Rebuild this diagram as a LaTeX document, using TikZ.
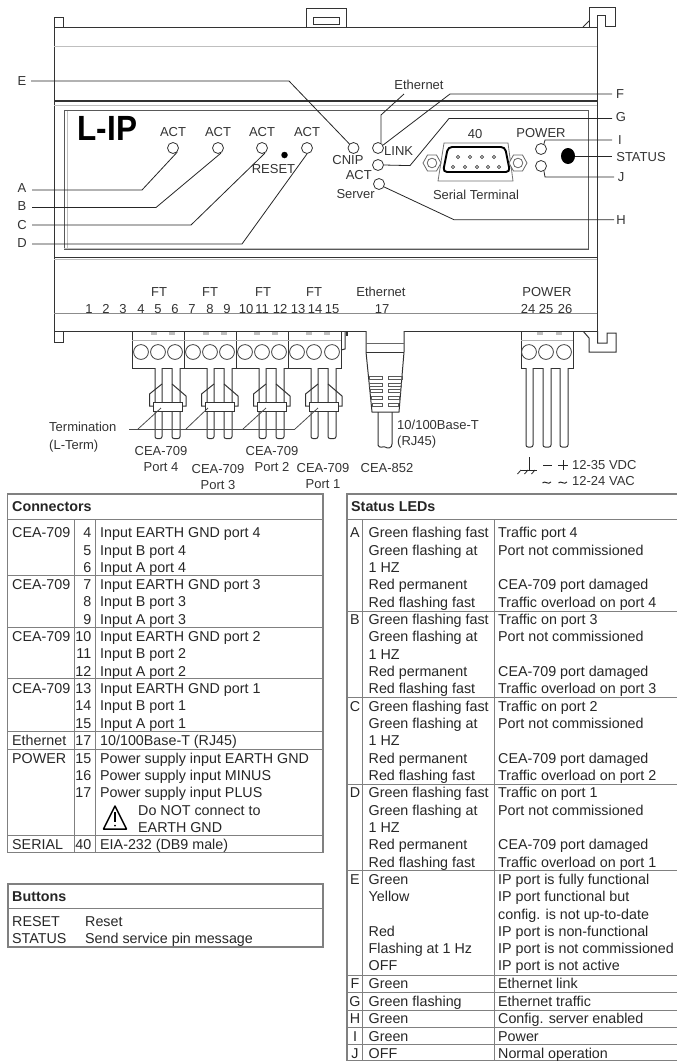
\documentclass[tikz,border=0pt]{standalone}
\usepackage{fontspec}
\usetikzlibrary{shapes.geometric}
\setmainfont{Liberation Sans}
\newcount\autonum
\newcommand{\ttx}[3]{\global\advance\autonum by 1 \node[tbltext,name=t\the\autonum] at (#1,{#2+5.1}) {#3};}
\newcommand{\ttr}[3]{\global\advance\autonum by 1 \node[tbltext,anchor=base east,name=t\the\autonum] at (#1,{#2+5.1}) {#3};}
\newcommand{\ttc}[3]{\global\advance\autonum by 1 \node[tbltext,anchor=base,name=t\the\autonum] at (#1,{#2+5.1}) {#3};}
\newcommand{\lbc}[3]{\global\advance\autonum by 1 \node[lab,name=t\the\autonum] at (#1,{#2+4.6}) {#3};}
\newcommand{\lbl}[3]{\global\advance\autonum by 1 \node[lab,anchor=base west,name=t\the\autonum] at (#1,{#2+4.6}) {#3};}
\newcommand{\lbr}[3]{\global\advance\autonum by 1 \node[lab,anchor=base east,name=t\the\autonum] at (#1,{#2+4.6}) {#3};}
\tikzset{
  tbltext/.style={anchor=base west,inner sep=0pt,text=black!85,font=\fontsize{14.3}{17}\selectfont},
  lab/.style={anchor=base,inner sep=0pt,text=black!80,font=\fontsize{13}{15}\selectfont},
  letter/.style={inner sep=1.5pt,text=black!80,font=\fontsize{13}{15}\selectfont},
  led/.style={circle,draw=black!80,line width=.8pt,fill=white,minimum size=11pt,inner sep=0pt},
  body/.style={draw=black!80,line width=1pt},
  soft/.style={draw=black!25,line width=1pt},
  leader/.style={draw=black!85,line width=.8pt},
  rule/.style={draw=black!50,line width=.9pt},
  frame/.style={draw=black!50,line width=1.1pt},
  wire/.style={draw=black!80,line width=1pt,fill=white,rounded corners=2pt},
  screw/.style={draw=black!75,line width=.8pt,fill=white},
  pin/.style={draw=black!75,line width=.7pt,fill=white},
}
\begin{document}
\begin{tikzpicture}[x=1pt,y=-1pt]
\useasboundingbox (0,0) rectangle (677,1061);
% ---- housing tabs
\draw[body] (54,27) -- (54,17) -- (63,17) -- (63,27);
\draw[body] (306,27) -- (306,8) -- (346,8) -- (346,27);
\draw[body] (313,17) rectangle (339,24);
\draw[body] (589,27) -- (589,7) -- (615,7) -- (615,26) -- (605,26) -- (605,15) -- (597.5,15) -- (597.5,27);
\draw[body] (583,27) -- (589,21);
\draw[body] (54,331) -- (54,342) -- (63,342) -- (63,331);
\draw[body] (583,331) -- (589,338) -- (589,352) -- (616,352) -- (616,333) -- (607,333) -- (607,343) -- (597.5,343) -- (597.5,331);
% ---- housing
\draw[body,fill=white] (54,27.5) rectangle (597.5,331);
\draw[soft] (54,46) -- (597,46);
\draw[body,line width=1.2pt] (54,101) -- (597,101);
\draw[soft] (54,105) -- (597,105);
\draw[draw=black!65,line width=.9pt] (64,110) rectangle (588,249);
\draw[soft] (67,111) -- (67,248);
\draw[soft] (64,248.5) -- (588,248.5);
\draw[body] (54,257) -- (597,257);
\draw[soft] (54,259) -- (597,259);
\draw[draw=black!45,line width=.8pt] (54,313.5) -- (597,313.5);
% ---- name
\node[name=title,inner sep=0pt,anchor=base west,text=black,font=\fontsize{35}{35}\selectfont\bfseries] at (77.5,140) {\scalebox{.9}[1]{L-IP}};
% ---- LEDs
\node[led] (la) at (173,148) {};
\node[led] (lb) at (218,148) {};
\node[led] (lc) at (262,148) {};
\node[led] (ld) at (307,148) {};
\node[led] (le) at (353.5,148) {};
\node[led] (lf) at (378,148) {};
\node[led] (lg) at (378,165) {};
\node[led] (lh) at (379,184) {};
\node[led] (li) at (541,149) {};
\node[led] (lj) at (541,166) {};
\node[name=resetdot,circle,fill=black,minimum size=6.5pt,inner sep=0pt] at (284.5,155) {};
\node[name=statusdot,ellipse,fill=black,minimum width=14pt,minimum height=16pt,inner sep=0pt] at (568,156) {};
% ---- letters
\node[letter] (A) at (22,188) {A};
\node[letter] (B) at (22,206) {B};
\node[letter] (C) at (22,225) {C};
\node[letter] (D) at (22,243) {D};
\node[letter] (E) at (22,81) {E};
\node[letter] (F) at (620,94) {F};
\node[letter] (G) at (621,117) {G};
\node[letter] (H) at (621,220) {H};
\node[letter] (I) at (620,140) {I};
\node[letter] (J) at (621,177) {J};
\node[letter,inner sep=0pt] (STATUS) at (641,157) {STATUS};
\node[letter] (EthT) at (419,85) {Ethernet};
% ---- leaders
\coordinate (a1) at (142,190); \coordinate (b1) at (156,207.5);
\coordinate (c1) at (191,225); \coordinate (d1) at (242,244);
\coordinate (e1) at (289,81);
\draw[leader] (32,190) -- (a1) -- (la.-45);
\draw[leader] (32,207.5) -- (b1) -- (lb.-60);
\draw[leader] (32,225) -- (c1) -- (lc.-60);
\draw[leader] (32,244) -- (d1) -- (ld.-90);
\draw[leader] (31,81) -- (e1) -- (le.135);
\coordinate (f1) at (450,94); \coordinate (g1) at (449,118.5);
\coordinate (g2) at (410,165.6); \coordinate (h1) at (454,219.7);
\coordinate (e2) at (381,115);
\draw[leader] (612,94) -- (f1) -- (lf.30);
\draw[leader] (612,118.5) -- (g1) -- (g2) -- (lg.east);
\draw[leader] (614,219.7) -- (h1) -- (lh.-30);
\draw[leader] (612,140) -- (545,140) -- (li.60);
\draw[leader] (614,177) -- (545,177) -- (lj.-60);
\draw[leader] (statusdot.east) -- (612,156);
\draw[leader] (404,94) -- (e2) -- (lf.60);
% ---- panel labels
\foreach \px in {173,218,262,307} {\lbc{\px}{132}{ACT}}
\lbc{273.5}{169}{RESET}
\lbc{348}{160}{CNIP}
\lbl{384}{151}{LINK}
\lbr{372}{175}{ACT}
\lbr{375}{194}{Server}
\lbc{541}{133}{POWER}
\lbc{475}{134}{40}
\lbc{476}{195}{Serial Terminal}
% ---- serial connector
\draw[draw=black!55,line width=.8pt,fill=white] (444,143) -- (508,143) -- (513,181) -- (438,181) -- cycle;
\draw[draw=black,line width=1.9pt,rounded corners=4pt] (448,147) -- (505,147) -- (510,172) -- (443,172) -- cycle;
\foreach \px in {458,470,482,494} {\draw[pin] (\px,157) circle[radius=1.6];}
\foreach \px in {453,465,477,488,499} {\draw[pin] (\px,167) circle[radius=1.6];}
\foreach \cx in {432,518} {
  \draw[draw=black!60,line width=.8pt,fill=white] (\cx-9,163) -- (\cx-4.5,155) -- (\cx+4.5,155) -- (\cx+9,163) -- (\cx+4.5,171) -- (\cx-4.5,171) -- cycle;
  \draw[draw=black!60,line width=.8pt] (\cx,163) circle[radius=4.8];
}
% ---- terminal labels
\foreach \px in {159,210,263,314} {\lbc{\px}{292}{FT}}
\foreach \px/\nn in {89/1,106/2,123/3,141/4,158/5,175/6,192/7,210/8,227/9,246/10,262/11,280/12,298/13,315/14,332/15,382/17,528/24,546/25,565/26} {\lbc{\px}{309}{\nn}}
\lbc{381}{292}{Ethernet}
\lbc{547}{292}{POWER}
% ---- terminal blocks
\foreach \bl/\br in {132/184,184/236,236/288,288/341,521/573} {
  \draw[body,fill=white] (\bl,331) rectangle (\br,368);
  \draw[draw=black!30,line width=.9pt] (\bl,340) -- (\br,340);
}
\foreach \sx in {141,158,175,193,210,227,245,262,279,297,314,332,529,546,564} {
  \draw[screw] (\sx,352) circle[radius=7.4];
}
\foreach \gx in {151,169,203,221,254,272,306,324,537,556} {
  \fill[black!25] (\gx,331.5) rectangle +(6,3);
}
\draw[body] (341,350) -- (345,349) -- (345,331);
\draw[body,line width=1.5pt] (347,331) -- (347,336);
% ---- CEA-709 wires and terminators
\foreach \off in {0,52,104,156} {
  \begin{scope}[xshift=\off pt]
    \draw[wire] (155,368) -- (155,438.5) -- (162,438.5) -- (162,368);
    \draw[wire] (172,368) -- (172,438.5) -- (180,438.5) -- (180,368);
    \draw[body] (162,384) -- (149.5,394) -- (149.5,406) -- (153,406);
    \draw[body] (172,384) -- (186,396) -- (186,406) -- (182,406);
    \draw[body,fill=white] (153,402) rectangle (182,411);
  \end{scope}
}
% ---- termination leader
\node[lab,anchor=base west,name=termA] at (49,431.6) {Termination};
\node[lab,anchor=base west,name=termB] at (49,449.6) {(L-Term)};
\coordinate (tbar) at (129,429); \coordinate (tend) at (295,429);
\draw[leader,draw=black!70] (tbar) -- (tend);
\foreach \ta/\tb in {138/161,186/208,243/266,295/318} {\draw[leader,draw=black!70] (\ta,429) -- (\tb,408);}
\lbc{161}{451}{CEA-709}\lbc{161}{467}{Port 4}
\lbc{218}{469}{CEA-709}\lbc{218}{485}{Port 3}
\lbc{272}{451}{CEA-709}\lbc{272}{467}{Port 2}
\lbc{323}{468}{CEA-709}\lbc{323}{484}{Port 1}
% ---- Ethernet plug
\draw[body,fill=white] (366,331) -- (366,352) -- (372,412) -- (399,412) -- (404,352) -- (404,331);
\draw[draw=black!60,line width=.8pt] (366,343) -- (404,343);
\draw[body] (366,352) -- (404,352);
\foreach \ya/\yb/\ins in {376/379/0,383/386/.8,389.5/392.5/1.6,396.5/399.5/2.4,403/406/3.2} {
  \draw[draw=black!65,line width=.8pt] (369+\ins,\ya) rectangle (382,\yb);
  \draw[draw=black!65,line width=.8pt] (388,\ya) rectangle (402-\ins,\yb);
}
\draw[body] (378,412) -- (378,445) .. controls (379,449) and (384,446) .. (385,447) .. controls (388,449) and (392,448) .. (392,444) -- (392,412);
\lbl{397}{425}{10/100Base-T}
\lbl{397}{441}{(RJ45)}
\lbc{387}{468}{CEA-852}
% ---- power wires
\foreach \pa/\pb in {526/533,543/551,560/568} {
  \draw[wire] (\pa,368) -- (\pa,447) -- (\pb,447) -- (\pb,368);
}
\draw[leader] (529,457) -- (529,470);
\draw[leader] (521,470) -- (537,470);
\foreach \gx in {521,528,535} {\draw[leader] (\gx,470) -- (\gx-3.5,474);}
\draw[leader,line width=1pt] (543,465) -- (552,465);
\draw[leader,line width=1pt] (558,465) -- (568,465);
\draw[leader,line width=1pt] (563,460) -- (563,470);
\lbl{572}{465}{12-35 VDC}
\lbl{572}{481}{12-24 VAC}
\foreach \tx in {547,563} {\draw[leader,line width=1pt] (\tx-4.5,483) .. controls (\tx-2,480) and (\tx+1,485.5) .. (\tx+4,482);}
% ---- Connectors table
\draw[frame] (7.5,494) rectangle (323,852.7);
\draw[rule] (7.5,519) -- (323,519);
\foreach \ry in {575,627.7,678,731.7,749.3,835.7} {\draw[rule] (7.5,\ry) -- (323,\ry);}
\draw[rule] (74.5,519) -- (74.5,852.7);
\draw[rule] (95,519) -- (95,852.7);
\global\advance\autonum by 1 \node[tbltext,name=t\the\autonum,font=\fontsize{14.3}{17}\selectfont\bfseries] at (12,511.5) {Connectors};
\ttx{12}{532.7}{CEA-709}\ttx{12}{584.5}{CEA-709}\ttx{12}{636.5}{CEA-709}\ttx{12}{688.5}{CEA-709}
\ttx{12}{740.5}{Ethernet}\ttx{12}{758}{POWER}\ttx{12}{844.5}{SERIAL}
\foreach \yy/\nn/\txt in {
  532.7/4/Input EARTH GND port 4,550/5/Input B port 4,567/6/Input A port 4,
  584.5/7/Input EARTH GND port 3,601.8/8/Input B port 3,619/9/Input A port 3,
  636.5/10/Input EARTH GND port 2,653.8/11/Input B port 2,671/12/Input A port 2,
  688.5/13/Input EARTH GND port 1,705.8/14/Input B port 1,723/15/Input A port 1,
  740.5/17/10\slash 100Base-T (RJ45),758/15/Power supply input EARTH GND,775.3/16/Power supply input MINUS,792.6/17/Power supply input PLUS,
  844.5/40/EIA-232 (DB9 male)} {
  \ttr{91.5}{\yy}{\nn}\ttx{100}{\yy}{\txt}
}
\ttx{138}{810}{Do NOT connect to}
\ttx{138}{827}{EARTH GND}
\draw[draw=black,line width=1.5pt,line join=round] (115,806) -- (126.5,829) -- (103.5,829) -- cycle;
\draw[draw=black,line width=1.2pt] (115,812) -- (115,822);
\fill[black] (115,825.5) circle[radius=1];
% ---- Buttons table
\draw[frame] (8,884) rectangle (323,947);
\draw[rule] (8,908.5) -- (323,908.5);
\global\advance\autonum by 1 \node[tbltext,name=t\the\autonum,font=\fontsize{14.3}{17}\selectfont\bfseries] at (12,901) {Buttons};
\ttx{12}{921}{RESET}\ttx{85}{921}{Reset}
\ttx{12}{938}{STATUS}\ttx{85}{938}{Send service pin message}
% ---- Status LEDs table
\draw[frame] (677,494) -- (347,494) -- (347,1060.5) -- (677,1060.5);
\draw[rule] (347,519) -- (677,519);
\foreach \ry in {611,697.7,784,870,975,992,1010,1027,1044} {\draw[rule] (347,\ry) -- (677,\ry);}
\draw[rule] (362,519) -- (362,1060.5);
\draw[rule] (494,519) -- (494,1060.5);
\global\advance\autonum by 1 \node[tbltext,name=t\the\autonum,font=\fontsize{14.3}{17}\selectfont\bfseries] at (351,511.5) {Status LEDs};
\foreach \gy/\lt/\pt/\trf in {532.7/A/4/Traffic port 4,619.3/B/3/Traffic on port 3,706/C/2/Traffic on port 2,792.7/D/1/Traffic on port 1} {
  \ttc{355}{\gy}{\lt}
  \ttx{368.5}{\gy}{Green flashing fast}\ttx{498}{\gy}{\trf}
  \ttx{368.5}{\gy+17.3}{Green flashing at}\ttx{498}{\gy+17.3}{Port not commissioned}
  \ttx{368.5}{\gy+34.6}{1 HZ}
  \ttx{368.5}{\gy+51.9}{Red permanent}\ttx{498}{\gy+51.9}{CEA-709 port damaged}
  \ttx{368.5}{\gy+69.2}{Red flashing fast}\ttx{498}{\gy+69.2}{Traffic overload on port \pt}
}
\ttc{355}{879.3}{E}
\ttx{368.5}{879.3}{Green}\ttx{498}{879.3}{IP port is fully functional}
\ttx{368.5}{896.6}{Yellow}\ttx{498}{896.6}{IP port functional but}
\ttx{498}{913.9}{config. is not up-to-date}
\ttx{368.5}{931.2}{Red}\ttx{498}{931.2}{IP port is non-functional}
\ttx{368.5}{948.5}{Flashing at 1 Hz}\ttx{498}{948.5}{IP port is not commissioned}
\ttx{368.5}{965.8}{OFF}\ttx{498}{965.8}{IP port is not active}
\foreach \yy/\lt/\col/\mng in {983.5/F/Green/Ethernet link,1001/G/Green flashing/Ethernet traffic,1018.5/H/Green/Config. server enabled,1036/I/Green/Power,1053/J/OFF/Normal operation} {
  \ttc{355}{\yy}{\lt}\ttx{368.5}{\yy}{\col}\ttx{498}{\yy}{\mng}
}
\end{tikzpicture}
\end{document}
